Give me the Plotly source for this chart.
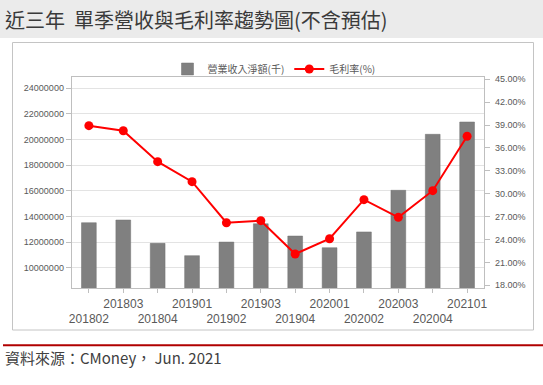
import plotly.graph_objects as go

quarters = ["201802", "201803", "201804", "201901", "201902", "201903",
            "201904", "202001", "202002", "202003", "202004", "202101"]
revenue = [13510000, 13720000, 11900000, 10940000, 12000000, 13430000,
           12470000, 11560000, 12790000, 16040000, 20410000, 21370000]
gross_margin = [38.92, 38.26, 34.20, 31.58, 26.20, 26.47,
                22.10, 24.10, 29.22, 26.91, 30.40, 37.53]
left_ticks = [10000000, 12000000, 14000000, 16000000, 18000000, 20000000, 22000000, 24000000]
right_ticks = [18, 21, 24, 27, 30, 33, 36, 39, 42, 45]

W, H = 543, 385
def px(x):
    return x / W
def py(y):
    return (H - y) / H

tick_text = [q if i % 2 else "\u00a0<br>" + q for i, q in enumerate(quarters)]
right_text = [f"{v:.2f}%" for v in right_ticks]

CJK = "Noto Sans CJK TC, Liberation Sans, sans-serif"
NUM = "Liberation Sans, Noto Sans CJK TC, sans-serif"
AX = "#595959"

fig = go.Figure()
fig.add_trace(go.Bar(
    x=quarters, y=revenue, name="營業收入淨額(千)",
    marker=dict(color="#808080", line=dict(color="#707070", width=0.5)),
    yaxis="y",
))
fig.add_trace(go.Scatter(
    x=quarters, y=gross_margin, name="毛利率(%)", mode="lines+markers",
    line=dict(color="#ff0000", width=2),
    marker=dict(color="#ff0000", size=9),
    yaxis="y2",
))

fig.update_layout(
    width=W, height=H,
    margin=dict(l=0, r=0, t=0, b=0),
    paper_bgcolor="white", plot_bgcolor="white",
    bargap=0.57,
    showlegend=True,
    legend=dict(orientation="h", x=px(274), y=py(69), xanchor="center", yanchor="middle",
                font=dict(family=CJK, size=10, color=AX), bgcolor="rgba(0,0,0,0)",
                itemwidth=30, tracegroupgap=0),
    xaxis=dict(
        domain=[px(71.7), px(484.3)],
        type="category", range=[-0.5, 11.5],
        tickmode="array", tickvals=quarters, ticktext=tick_text,
        ticks="outside", ticklen=4, tickcolor="#bfbfbf",
        tickfont=dict(family=NUM, size=12, color=AX),
        tickangle=0,
        showline=True, linecolor="#bfbfbf", linewidth=1, mirror=True,
        showgrid=False, automargin=False, fixedrange=True,
    ),
    yaxis=dict(
        domain=[py(288.3), py(77.3)],
        range=[8393000, 24858000],
        tickmode="array", tickvals=left_ticks, tickformat="d",
        ticks="outside", ticklen=5, tickcolor="#bfbfbf",
        tickfont=dict(family=NUM, size=9, color=AX),
        showline=True, linecolor="#bfbfbf", linewidth=1, mirror=True,
        showgrid=True, gridcolor="#e3e3e3", gridwidth=1,
        zeroline=False, automargin=False, fixedrange=True,
    ),
    yaxis2=dict(
        overlaying="y", side="right", anchor="x",
        range=[17.607, 45.26],
        tickmode="array", tickvals=right_ticks, ticktext=right_text,
        ticks="outside", ticklen=5, tickcolor="#bfbfbf",
        tickfont=dict(family=NUM, size=9, color=AX),
        ticklabelstandoff=3,
        showline=False, showgrid=False, zeroline=False,
        automargin=False, fixedrange=True,
    ),
    shapes=[
        dict(type="rect", xref="paper", yref="paper", x0=0, x1=1, y0=py(38), y1=1,
             fillcolor="#ebebeb", line=dict(width=0), layer="below"),
        dict(type="rect", xref="paper", yref="paper", x0=px(12.5), x1=px(533.5),
             y0=py(330), y1=py(42.5), fillcolor="rgba(0,0,0,0)",
             line=dict(color="#c4c4c4", width=1), layer="below"),
        dict(type="line", xref="paper", yref="paper", x0=px(3), x1=1,
             y0=py(345.3), y1=py(345.3), line=dict(color="#b00000", width=2)),
    ],
    annotations=[
        dict(text="近三年  單季營收與毛利率趨勢圖(不含預估)", xref="paper", yref="paper",
             x=px(3), y=py(19), xanchor="left", yanchor="middle", showarrow=False,
             font=dict(family=CJK, size=20, color="#3a3a3a")),
        dict(text="資料來源：CMoney， Jun. 2021", xref="paper", yref="paper",
             x=px(3), y=py(357), xanchor="left", yanchor="middle", showarrow=False,
             font=dict(family=CJK, size=15, color="#404040")),
    ],
)

fig.write_html("out.html", config={"displayModeBar": False},
               post_script="document.body.style.margin='0';document.body.style.overflow='hidden';")
